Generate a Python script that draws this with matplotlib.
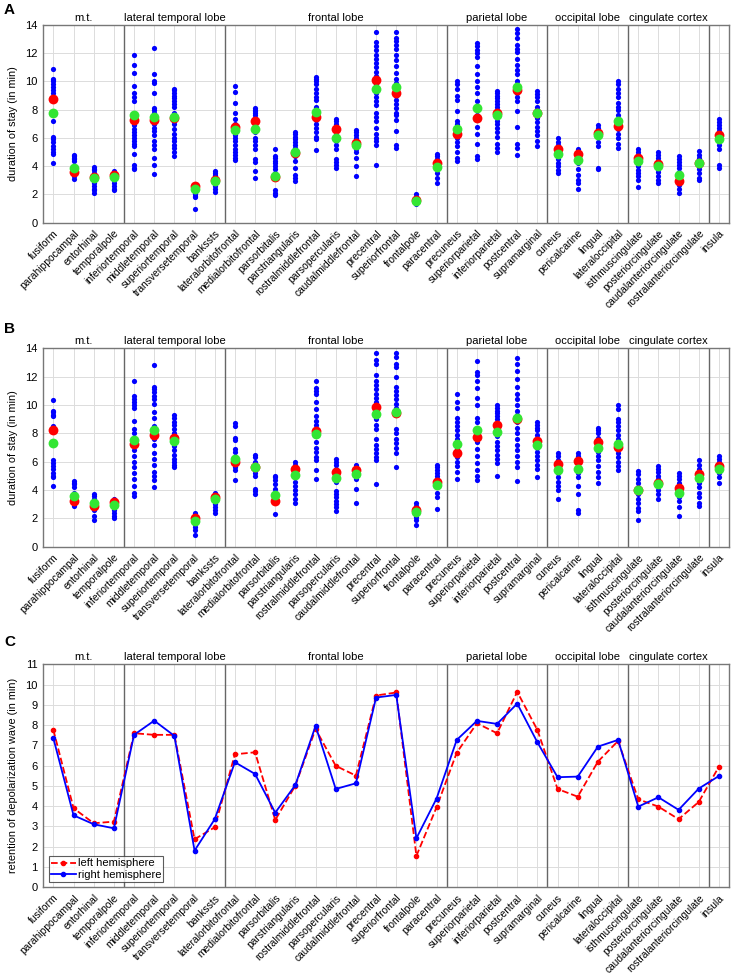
import numpy as np
import matplotlib
matplotlib.use("Agg")
import matplotlib.pyplot as plt

plt.rcParams['font.family'] = ['Liberation Sans', 'DejaVu Sans']

regions = [
    'fusiform', 'parahippocampal', 'entorhinal', 'temporalpole',
    'inferiortemporal', 'middletemporal', 'superiortemporal', 'transversetemporal', 'bankssts',
    'lateralorbitofrontal', 'medialorbitofrontal', 'parsorbitalis', 'parstriangularis',
    'rostralmiddlefrontal', 'parsopercularis', 'caudalmiddlefrontal', 'precentral',
    'superiorfrontal', 'frontalpole', 'paracentral',
    'precuneus', 'superiorparietal', 'inferiorparietal', 'postcentral', 'supramarginal',
    'cuneus', 'pericalcarine', 'lingual', 'lateraloccipital',
    'isthmuscingulate', 'posteriorcingulate', 'caudalanteriorcingulate', 'rostralanteriorcingulate',
    'insula',
]

# lobe name and number of regions in it (insula has no label)
lobe_names = ['m.t.', 'lateral temporal lobe', 'frontal lobe', 'parietal lobe',
              'occipital lobe', 'cingulate cortex', '']
lobe_sizes = [4, 5, 11, 5, 4, 4, 1]

# panel A: left hemisphere, individual durations
dots_left = [
    [10.9, 10.2, 10.1, 10.0, 9.8, 9.6, 9.4, 9.2, 7.2, 6.1, 5.9, 5.7, 5.4, 5.2, 5.0, 4.9, 4.2],
    [4.8, 4.7, 4.6, 4.5, 4.4, 3.9, 3.7, 3.5, 3.3, 3.1],
    [3.95, 3.8, 3.7, 3.5, 3.3, 3.0, 2.8, 2.6, 2.4, 2.3, 2.1],
    [3.65, 3.5, 3.4, 3.2, 3.0, 2.8, 2.6, 2.4, 2.3],
    [11.87, 11.2, 10.6, 9.7, 9.2, 8.9, 8.6, 7.8, 7.5, 7.3, 7.1, 6.9, 6.6, 6.4, 6.2, 6.0, 5.8,
     5.6, 5.4, 4.9, 4.1, 3.9, 3.8],
    [12.35, 10.5, 10.0, 9.9, 9.2, 8.1, 8.0, 7.8, 7.6, 7.3, 7.0, 6.7, 6.5, 6.2, 5.8, 5.5, 5.2,
     4.6, 4.1, 3.45],
    [9.5, 9.4, 9.2, 9.0, 8.8, 8.6, 8.4, 8.2, 7.8, 7.5, 7.2, 7.0, 6.6, 6.3, 6.0, 5.8, 5.5, 5.3,
     5.0, 4.7],
    [2.7, 2.5, 2.3, 2.1, 2.0, 1.9, 1.8, 1.0],
    [3.65, 3.55, 3.4, 3.2, 3.0, 2.8, 2.6, 2.4, 2.2],
    [9.65, 9.25, 8.5, 7.75, 7.35, 7.0, 6.8, 6.5, 6.2, 6.0, 5.8, 5.5, 5.2, 5.0, 4.8, 4.6, 4.45],
    [8.15, 8.0, 7.9, 7.8, 7.6, 7.4, 7.0, 6.8, 6.4, 6.0, 5.8, 5.5, 5.2, 4.5, 4.3, 3.65, 3.2],
    [5.2, 4.7, 4.6, 4.4, 4.2, 4.0, 3.8, 3.5, 3.3, 2.3, 2.1, 1.95],
    [6.4, 6.3, 6.1, 5.9, 5.7, 5.5, 5.3, 5.0, 4.7, 4.4, 3.9, 3.4, 3.2, 2.95],
    [10.3, 10.2, 10.0, 9.8, 9.5, 9.2, 8.9, 8.7, 8.2, 7.9, 7.6, 7.3, 7.0, 6.7, 6.4, 6.1, 5.9, 5.15],
    [7.35, 7.2, 7.0, 6.8, 6.5, 6.2, 5.8, 5.5, 5.2, 4.5, 4.3, 4.1, 3.9],
    [6.55, 6.4, 6.2, 6.0, 5.8, 5.6, 5.4, 5.2, 5.0, 4.6, 4.0, 3.3],
    [13.5, 12.8, 12.5, 12.2, 11.9, 11.6, 11.3, 11.0, 10.7, 10.4, 10.2, 10.0, 9.8, 9.5, 9.2, 8.9,
     8.6, 8.3, 7.8, 7.5, 7.2, 6.7, 6.3, 6.0, 5.8, 5.5, 4.1],
    [13.5, 13.1, 12.9, 12.6, 12.3, 11.9, 11.5, 11.1, 10.6, 10.2, 9.9, 9.5, 9.2, 9.0, 8.7, 8.4,
     8.1, 7.8, 7.6, 7.3, 6.5, 5.5, 5.3],
    [2.0, 1.8, 1.6, 1.3],
    [4.9, 4.7, 4.5, 4.3, 4.0, 3.8, 3.5, 3.2, 2.8],
    [10.0, 9.8, 9.5, 9.0, 8.7, 7.9, 7.2, 7.0, 6.8, 6.5, 6.3, 6.0, 5.7, 5.4, 5.0, 4.6, 4.4],
    [12.7, 12.5, 12.2, 12.0, 11.7, 11.1, 10.5, 10.0, 9.6, 9.2, 8.6, 8.0, 7.6, 7.3, 6.8, 6.3,
     5.6, 4.7, 4.5],
    [9.35, 9.2, 9.0, 8.8, 8.6, 8.4, 8.2, 8.0, 7.8, 7.5, 7.2, 7.0, 6.7, 6.4, 6.1, 5.6, 5.3, 5.0],
    [13.7, 13.4, 13.1, 12.6, 12.3, 12.1, 11.6, 11.2, 10.8, 10.5, 10.0, 9.6, 9.2, 8.9, 8.6, 7.9,
     6.8, 5.6, 5.3, 4.8],
    [9.3, 9.1, 8.9, 8.6, 8.2, 8.0, 7.7, 7.4, 7.1, 6.8, 6.5, 6.2, 5.8, 5.4],
    [6.0, 5.7, 5.5, 5.2, 5.0, 4.8, 4.5, 4.2, 4.0, 3.7, 3.5],
    [5.25, 5.0, 4.8, 4.5, 4.2, 3.8, 3.4, 3.0, 2.8, 2.4],
    [6.9, 6.7, 6.5, 6.3, 6.1, 5.7, 5.4, 3.9, 3.8],
    [10.0, 9.8, 9.5, 9.2, 8.9, 8.5, 8.2, 8.0, 7.6, 7.2, 6.9, 6.6, 6.3, 6.0, 5.6, 5.3],
    [5.25, 5.0, 4.8, 4.6, 4.4, 4.2, 4.0, 3.7, 3.5, 3.3, 3.0, 2.5],
    [5.0, 4.8, 4.6, 4.4, 4.2, 4.0, 3.8, 3.6, 3.3, 3.0, 2.8],
    [4.7, 4.5, 4.3, 4.1, 3.9, 3.6, 3.3, 3.0, 2.7, 2.4, 2.1],
    [5.05, 4.8, 4.6, 4.4, 4.2, 4.0, 3.8, 3.5, 3.2, 3.0],
    [7.35, 7.1, 6.9, 6.7, 6.5, 6.2, 6.0, 5.8, 5.5, 5.2, 4.1, 3.9],
]

# panel B: right hemisphere, individual durations
dots_right = [
    [10.35, 9.6, 9.5, 9.3, 9.2, 8.5, 8.3, 6.1, 5.9, 5.7, 5.5, 5.2, 5.0, 4.9, 4.25],
    [4.65, 4.5, 4.4, 4.2, 3.8, 3.5, 3.2, 3.0, 2.9],
    [3.75, 3.6, 3.4, 3.2, 3.0, 2.8, 2.6, 2.2, 1.9],
    [3.35, 3.2, 3.0, 2.8, 2.6, 2.4, 2.2, 2.05],
    [11.7, 10.6, 10.4, 10.2, 10.0, 9.8, 8.9, 8.3, 8.0, 7.6, 7.2, 6.8, 6.4, 6.0, 5.6, 5.2, 4.8,
     4.3, 3.8, 3.6],
    [12.8, 11.3, 11.1, 10.9, 10.6, 10.4, 10.1, 9.5, 9.1, 8.5, 8.0, 7.6, 7.2, 6.6, 6.2, 5.8, 5.3,
     5.0, 4.7, 4.2],
    [9.3, 9.1, 8.8, 8.6, 8.3, 8.0, 7.7, 7.4, 7.1, 6.8, 6.5, 6.2, 6.0, 5.8, 5.6],
    [2.4, 2.2, 2.0, 1.8, 1.6, 1.4, 1.2, 0.8],
    [3.8, 3.6, 3.4, 3.2, 3.0, 2.8, 2.6, 2.4],
    [8.7, 8.5, 7.7, 7.5, 6.9, 6.7, 6.3, 6.0, 5.8, 5.6, 5.4, 4.7],
    [6.5, 6.3, 6.0, 5.8, 5.5, 5.2, 5.0, 4.1, 3.9, 3.7],
    [5.0, 4.9, 4.7, 4.4, 4.1, 3.8, 3.6, 3.3, 2.3],
    [6.0, 5.8, 5.5, 5.2, 4.9, 4.6, 4.3, 4.0, 3.7, 3.4, 3.1],
    [11.7, 11.2, 11.0, 10.8, 10.2, 9.7, 9.2, 8.9, 8.6, 8.3, 7.8, 7.4, 7.0, 6.7, 6.3, 6.1, 5.4, 4.8],
    [6.2, 6.0, 5.8, 5.5, 5.3, 4.9, 4.6, 3.9, 3.7, 3.5, 3.2, 3.0, 2.8, 2.55],
    [5.75, 5.6, 5.4, 5.2, 5.0, 4.8, 4.1, 3.05],
    [13.65, 13.2, 12.9, 12.1, 11.7, 11.4, 11.1, 10.8, 10.5, 10.2, 9.9, 9.5, 9.0, 8.6, 8.3, 7.6,
     7.2, 6.9, 6.6, 6.3, 6.1, 4.4],
    [13.65, 13.4, 12.9, 12.7, 12.0, 11.3, 11.0, 10.7, 10.4, 10.1, 9.8, 9.3, 8.3, 8.0, 7.6, 7.3,
     7.0, 6.6, 5.65],
    [3.1, 2.9, 2.7, 2.5, 2.3, 2.1, 1.9, 1.55],
    [5.8, 5.6, 5.4, 5.2, 5.0, 4.8, 4.5, 4.2, 3.8, 3.5, 2.65],
    [10.8, 10.2, 9.8, 9.1, 8.8, 8.5, 8.2, 7.9, 7.6, 7.3, 6.9, 6.6, 6.3, 6.0, 5.7, 5.3, 4.8],
    [13.1, 12.3, 12.1, 11.7, 11.2, 10.5, 10.0, 9.1, 8.8, 8.3, 7.9, 7.4, 6.9, 6.4, 5.9, 5.4, 5.0, 4.7],
    [10.0, 9.8, 9.6, 9.4, 9.2, 9.0, 8.7, 8.4, 8.1, 7.8, 7.4, 7.1, 6.8, 6.5, 6.2, 5.9, 5.0],
    [13.3, 12.9, 12.4, 11.8, 11.3, 10.8, 10.4, 10.0, 9.6, 9.3, 8.8, 8.4, 8.0, 7.6, 7.2, 6.8, 6.4,
     6.0, 5.6, 4.65],
    [8.8, 8.6, 8.4, 8.2, 7.9, 7.6, 7.3, 7.0, 6.7, 6.4, 6.1, 5.8, 5.5, 4.9],
    [6.6, 6.4, 6.1, 5.8, 5.5, 5.2, 4.9, 4.6, 4.3, 4.0, 3.4],
    [6.6, 6.4, 6.0, 5.6, 5.2, 4.9, 4.3, 3.7, 2.6, 2.4],
    [8.4, 8.2, 8.0, 7.7, 7.4, 7.0, 6.7, 6.4, 6.1, 5.7, 5.3, 4.9, 4.5],
    [10.0, 9.7, 9.0, 8.8, 8.5, 8.2, 7.9, 7.6, 7.2, 6.9, 6.6, 6.3, 6.0, 5.7, 5.4],
    [5.35, 5.1, 4.8, 4.5, 4.2, 4.0, 3.7, 3.4, 3.1, 2.7, 2.5, 1.9],
    [5.7, 5.5, 5.3, 5.0, 4.8, 4.6, 4.3, 4.0, 3.7, 3.4],
    [5.2, 5.0, 4.8, 4.5, 4.2, 3.8, 3.5, 3.2, 2.8, 2.2],
    [6.15, 5.8, 5.5, 5.2, 4.8, 4.5, 4.2, 3.8, 3.5, 3.1, 2.85],
    [6.4, 6.2, 6.0, 5.8, 5.6, 5.4, 5.2, 4.9, 4.5],
]

mean_left = [8.78, 3.59, 3.26, 3.35, 7.27, 7.27, 7.44, 2.62, 3.0, 6.8, 7.2, 3.26, 4.96, 7.46,
             6.63, 5.67, 10.08, 9.16, 1.58, 4.25, 6.26, 7.39, 7.77, 9.4, 7.74, 5.19, 4.86, 6.37,
             6.85, 4.56, 4.15, 2.95, 4.2, 6.21]
mean_right = [8.24, 3.22, 2.89, 3.18, 7.25, 7.88, 7.65, 2.0, 3.53, 6.0, 5.65, 3.25, 5.48, 8.16,
              5.27, 5.41, 9.84, 9.41, 2.59, 4.59, 6.59, 7.72, 8.59, 9.0, 7.46, 5.84, 6.07, 7.36,
              7.06, 4.0, 4.52, 4.12, 5.13, 5.72]

# medians (green dots in A/B, lines in C)
median_left = [7.76, 3.9, 3.16, 3.24, 7.6, 7.52, 7.52, 2.37, 2.96, 6.56, 6.66, 3.32, 5.02, 7.81,
               5.99, 5.51, 9.46, 9.61, 1.55, 3.95, 6.64, 8.09, 7.6, 9.64, 7.76, 4.85, 4.47, 6.2,
               7.22, 4.34, 3.98, 3.36, 4.21, 5.95]
median_right = [7.35, 3.55, 3.11, 2.91, 7.52, 8.22, 7.47, 1.81, 3.36, 6.17, 5.59, 3.68, 5.05, 7.96,
                4.85, 5.13, 9.36, 9.49, 2.42, 4.38, 7.27, 8.21, 8.06, 9.06, 7.15, 5.43, 5.46, 6.94,
                7.27, 3.98, 4.44, 3.82, 4.87, 5.49]

W, H = 737, 976
fig = plt.figure(figsize=(W / 100, H / 100), dpi=100)

x = np.arange(len(regions))
bounds = np.cumsum(lobe_sizes)
starts = bounds - np.array(lobe_sizes)


def px_axes(left, top, right, bottom):
    return fig.add_axes([left / W, 1 - bottom / H, (right - left) / W, (bottom - top) / H])


def style_axes(ax, ymax, ylabel):
    ax.set_xlim(-0.5, len(regions) - 0.5)
    ax.set_ylim(0, ymax)
    ax.set_xticks(x)
    ax.set_xticklabels(regions, rotation=45, ha='right', rotation_mode='anchor', fontsize=7.4)
    ax.tick_params(axis='both', length=0, pad=4)
    ax.tick_params(axis='y', labelsize=8)
    ax.grid(True, color='#dcdcdc', lw=0.7)
    ax.set_axisbelow(True)
    for s in ax.spines.values():
        s.set_color('#777777')
        s.set_linewidth(1.0)
    for b in bounds[:-1]:
        ax.axvline(b - 0.5, color='#666666', lw=1.0, zorder=1)
    for name, s0, b in zip(lobe_names, starts, bounds):
        if name:
            ax.text((s0 + b - 1) / 2, ymax + 0.01 * ymax, name, ha='center', va='bottom',
                    fontsize=8)
    ax.set_ylabel(ylabel, fontsize=7.8, labelpad=5)


def scatter_panel(ax, dots, means, medians):
    for i, vals in enumerate(dots):
        ax.scatter(np.full(len(vals), i), vals, s=14, color='#0000ff', lw=0, zorder=3)
    ax.scatter(x, means, s=50, color='#ff0000', lw=0, zorder=4)
    ax.scatter(x, medians, s=50, color='#33e633', lw=0, zorder=5)
    style_axes(ax, 14, 'duration of stay (in min)')
    ax.set_yticks(np.arange(0, 15, 2))


axA = px_axes(43.3, 25, 729, 222.7)
scatter_panel(axA, dots_left, mean_left, median_left)

axB = px_axes(43.3, 348.3, 729, 546.7)
scatter_panel(axB, dots_right, mean_right, median_right)

axC = px_axes(43.3, 664.3, 729, 887.3)
axC.plot(x, median_left, '--', color='#ff0000', lw=1.3, marker='o', ms=3, label='left hemisphere',
         zorder=3)
axC.plot(x, median_right, '-', color='#0000ff', lw=1.3, marker='o', ms=3, label='right hemisphere',
         zorder=4)
style_axes(axC, 11, 'retention of depolarization wave (in min)')
axC.set_yticks(np.arange(0, 12, 1))
leg = axC.legend(loc='lower left', fontsize=8, frameon=True, fancybox=False, borderpad=0.2,
                 handlelength=2.2, handletextpad=0.2, labelspacing=0.1, borderaxespad=0.5)
leg.get_frame().set_edgecolor('#333333')
leg.get_frame().set_linewidth(0.8)

for label, ypx in [('A', 10), ('B', 329), ('C', 642)]:
    fig.text(4 / W, 1 - ypx / H, label, fontsize=11, fontweight='bold', va='center', ha='left')

fig.savefig('out.png', dpi=100)
